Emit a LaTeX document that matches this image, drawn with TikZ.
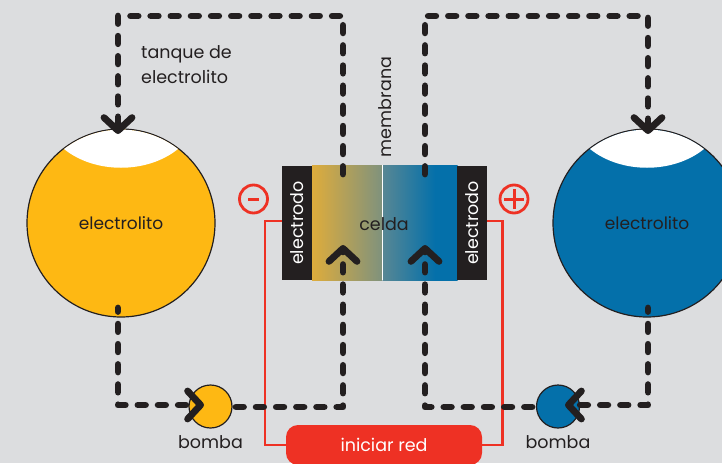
\documentclass[tikz,border=0pt]{standalone}
\usepackage{fontspec}
\setmainfont{Poppins}
\usetikzlibrary{positioning, arrows.meta}
\definecolor{bgGray}{RGB}{220,221,223}
\definecolor{inkDark}{RGB}{35,31,32}
\definecolor{liquidYellow}{RGB}{254,184,19}
\definecolor{liquidBlue}{RGB}{4,112,170}
\definecolor{wireRed}{RGB}{238,49,36}
\definecolor{cellA}{RGB}{222,172,60}
\definecolor{cellB}{RGB}{127,146,125}
\definecolor{cellC}{RGB}{88,135,148}
\pgfdeclarehorizontalshading{cellleft}{100bp}{color(0bp)=(cellA);color(25bp)=(cellA);color(75bp)=(cellB);color(100bp)=(cellB)}
\pgfdeclarehorizontalshading{cellright}{100bp}{color(0bp)=(cellC);color(25bp)=(cellC);color(60bp)=(liquidBlue);color(100bp)=(liquidBlue)}
\begin{document}
\begin{tikzpicture}[x=1pt, y=-1pt,
    tank/.style={circle, draw=inkDark, line width=1.2pt, minimum size=188pt, inner sep=0pt},
    pump/.style={circle, draw=inkDark, line width=1.2pt, minimum size=43pt, inner sep=0pt},
    flow/.style={draw=inkDark, line width=6.8pt, line cap=round, line join=round, dash pattern=on 7.5pt off 12.66pt},
    flowtip/.style={flow, -{Straight Barb[length=13pt, width=28pt, line width=6.8pt, round]}},
    wire/.style={draw=wireRed, line width=2.8pt},
    sign/.style={circle, draw=wireRed, line width=2.8pt, minimum size=28pt, inner sep=0pt},
    electrode/.style={fill=inkDark, minimum width=30pt, minimum height=114pt, inner sep=0pt},
    caption/.style={font=\fontsize{17.5}{20}\selectfont, text=inkDark, inner sep=0pt}
  ]
  \clip (0,0) rectangle (722,463);
  \fill[bgGray] (0,0) rectangle (722,463);

  % -- 1. TANKS --
  \node[tank, fill=liquidYellow] (tankL) at (121,223) {};
  \node[tank, fill=liquidBlue] (tankR) at (647,223) {};
  \begin{scope}
    \clip (121,223) circle[radius=93.4];
    \fill[white] (64,149) .. controls (95,174) and (147,174) .. (178,149) -- (178,120) -- (64,120) -- cycle;
  \end{scope}
  \begin{scope}
    \clip (647,223) circle[radius=93.4];
    \fill[white] (590,149) .. controls (621,174) and (673,174) .. (704,149) -- (704,120) -- (590,120) -- cycle;
  \end{scope}
  \node[caption, font=\fontsize{17}{20}\selectfont] at (tankL) {electrolito};
  \node[caption, font=\fontsize{17}{20}\selectfont] at (tankR) {electrolito};

  % -- 2. CELL --
  \node[minimum width=70pt, minimum height=115pt, inner sep=0pt, shading=cellleft] (cellL) at (347,222.5) {};
  \node[minimum width=75pt, minimum height=115pt, inner sep=0pt, shading=cellright] (cellR) at (420,222.5) {};
  \fill[white] (381.6,165) rectangle (383,280);
  \node[electrode] (elecL) at (297,223) {};
  \node[electrode] (elecR) at (472,223) {};
  \node[caption, white, rotate=90] at (elecL) {electrodo};
  \node[caption, white, rotate=90] at (elecR) {electrodo};
  \node[caption] (celda) at (384,224) {celda};
  \node[caption, rotate=90] at (385,107) {membrana};
  \node[caption, anchor=west, align=left, font=\fontsize{17.5}{25}\selectfont] at (141,65) {tanque de\\electrolito};

  % -- 3. RED CIRCUIT --
  \node[fill=wireRed, rounded corners=12pt, minimum width=196pt, minimum height=40pt, inner sep=0pt, text=white, font=\fontsize{17.5}{20}\selectfont] (start) at (384,445) {iniciar red};
  \draw[wire] (elecL.west |- 0,221) -| (265,445) -- (start.west);
  \draw[wire] (elecR.east |- 0,221) -| (502.5,445) -- (start.east);
  \node[sign] (minus) at (253.5,199) {};
  \node[sign] (plus) at (514,199) {};
  \draw[wireRed, line width=3pt] (248,199) -- (259,199);
  \draw[wireRed, line width=3pt] (504,199) -- (524,199) (514,189) -- (514,209);

  % -- 4. PUMPS --
  \node[pump, fill=liquidYellow] (pumpL) at (210.5,406.5) {};
  \node[pump, fill=liquidBlue] (pumpR) at (558,406.5) {};
  \node[caption, below=7pt of pumpL] {bomba};
  \node[caption, below=7pt of pumpR] {bomba};

  % -- 5. ELECTROLYTE FLOW --
  \coordinate (outL) at (118,308);
  \coordinate (outR) at (648,308);
  \coordinate (inL) at (118,134);
  \coordinate (inR) at (648,134);
  \coordinate (tipL) at (204,405);
  \coordinate (tipR) at (565,405);
  \coordinate (upL) at (343,245);
  \coordinate (upR) at (425,245);
  \coordinate (backL) at (236,407);
  \coordinate (backR) at (532,407);

  \draw[flowtip, dash phase=4pt] (outL) -- (118,405) -- (tipL);
  \draw[flowtip, dash phase=4pt] (outR) -- (648,405) -- (tipR);
  \draw[flowtip] (backL) -- (343,407) -- (upL);
  \draw[flowtip] (backR) -- (425,407) -- (upR);
  \draw[flowtip] (343,174) -- (343,16) -- (118,16) -- (inL);
  \draw[flowtip] (425,174) -- (425,16) -- (648,16) -- (inR);
\end{tikzpicture}
\end{document}
